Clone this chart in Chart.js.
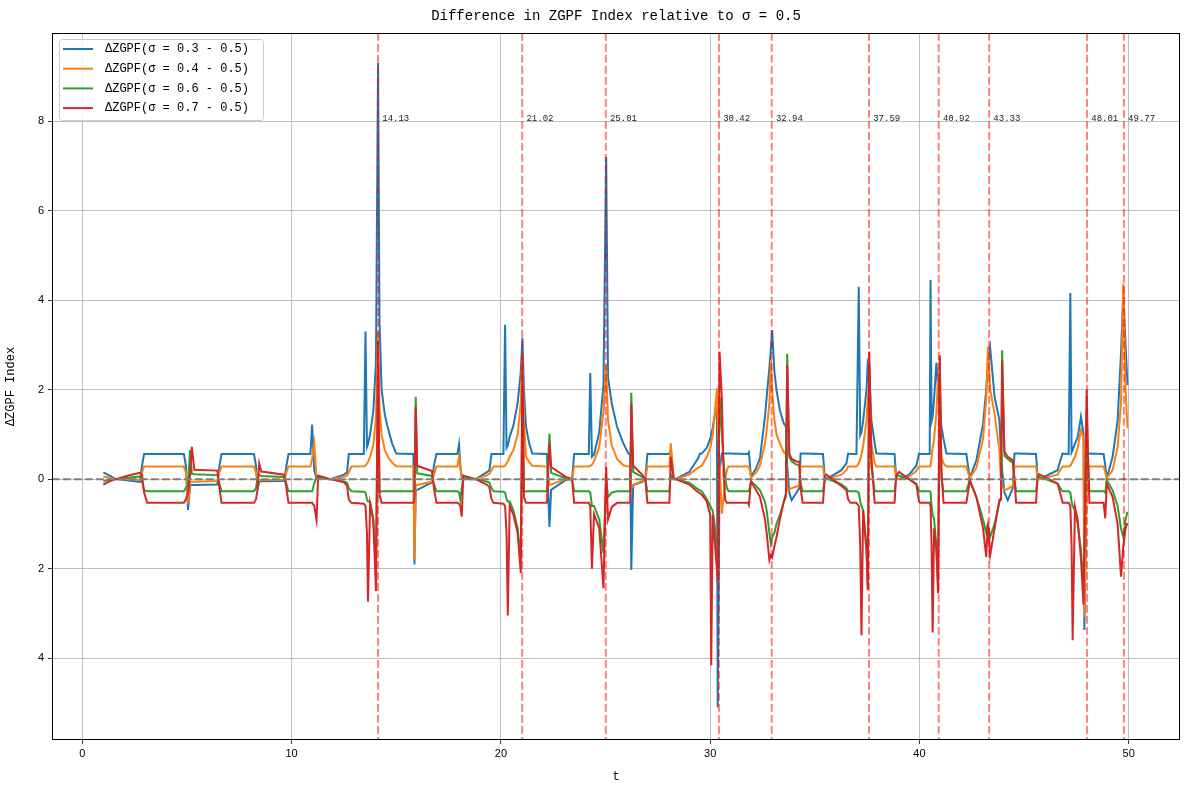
<!DOCTYPE html>
<html>
<head>
<meta charset="utf-8">
<script src="https://cdn.jsdelivr.net/npm/chart.js@4.4.1/dist/chart.umd.min.js"></script>
<style>
  html, body { margin: 0; padding: 0; background: #fff; }
  #wrap { width: 1189px; height: 790px; }
</style>
</head>
<body>
<div id="wrap"><canvas id="myChart" width="1189" height="790"></canvas></div>
<script>
// sample points (t) shared by the four series
const t = [
  1.0, 1.3, 1.6, 2.2, 2.75, 2.85, 2.95, 3.1,
  4.85, 4.95, 5.05, 5.15, 5.23, 5.35, 6.45, 6.55, 6.65,
  8.2, 8.3, 8.38, 8.45, 8.55, 9.65, 9.75, 9.85,
  10.9, 10.98, 11.08, 11.19, 11.27, 11.85, 12.5, 12.65, 12.73, 12.85,
  13.45, 13.53, 13.6, 13.65, 13.75, 13.9, 14.03, 14.13, 14.2, 14.3, 14.45, 14.6, 14.8, 15.0,
  15.82, 15.87, 15.93, 16.0, 16.7, 16.8, 16.92,
  17.92, 18.0, 18.06, 18.13, 18.2, 18.8, 19.35, 19.45, 19.55, 19.65,
  20.12, 20.2, 20.27, 20.33, 20.42, 20.6, 20.8, 20.95, 21.03, 21.1, 21.2, 21.35, 21.5,
  22.2, 22.32, 22.4, 23.1, 23.4, 23.5,
  24.2, 24.27, 24.35, 24.45, 24.7, 24.9, 25.03, 25.12, 25.3, 25.55, 25.85, 26.1,
  26.18, 26.23, 26.32, 26.75, 26.9, 27.0,
  28.05, 28.12, 28.25, 28.35, 29.0, 29.4, 29.52, 29.6, 29.84, 30.0, 30.05, 30.12, 30.21, 30.32, 30.36, 30.45, 30.56, 30.64, 30.72, 30.8, 30.88,
  31.8, 31.85, 31.95, 32.2, 32.38, 32.62, 32.7, 32.83, 32.9, 32.96, 33.07, 33.17, 33.33, 33.52, 33.62, 33.68, 33.78, 33.89, 34.1, 34.26, 34.32, 34.42,
  35.39, 35.48, 35.56, 36.27, 36.51, 36.59, 36.7, 36.99, 37.1, 37.17, 37.23, 37.31, 37.47, 37.53, 37.6, 37.7, 37.86, 37.94,
  38.81, 38.89, 39.02, 39.5, 39.85, 39.98, 40.04, 40.49, 40.53, 40.58, 40.63, 40.7, 40.81, 40.89, 40.97, 41.05, 41.15, 41.29,
  42.24, 42.32, 42.4, 42.72, 43.04, 43.19, 43.27, 43.38, 43.59, 43.82, 43.9, 43.95, 44.06, 44.22, 44.46, 44.54, 44.62,
  45.57, 45.65, 45.73, 46.6, 46.72, 46.84, 47.13, 47.21, 47.27, 47.32, 47.43, 47.56, 47.72, 47.84, 47.88, 47.99, 48.05, 48.12,
  48.8, 48.88, 48.95, 49.23, 49.47, 49.63, 49.74, 49.85, 49.94
];

// Δ for sigma = 0.3
const d03 = [
  0.15, 0.08, 0.0, -0.03, -0.06, 0.3, 0.56, 0.56,
  0.56, 0.3, -0.69, -0.15, -0.13, -0.13, -0.12, 0.3, 0.56,
  0.56, 0.3, -0.2, -0.06, -0.05, -0.04, 0.3, 0.56,
  0.56, 1.22, 0.2, 0.0, 0.02, 0.0, 0.1, 0.15, 0.56, 0.56,
  0.56, 3.3, 0.72, 0.78, 1.0, 1.5, 2.6, 9.3, 3.5, 2.0, 1.45, 1.14, 0.8, 0.57,
  0.56, -1.91, -0.25, -0.24, -0.08, 0.3, 0.56,
  0.56, 0.78, 0.3, 0.02, 0.0, 0.0, 0.16, 0.2, 0.56, 0.56,
  0.56, 3.45, 0.7, 0.75, 0.95, 1.2, 1.7, 2.4, 3.15, 2.0, 1.17, 0.8, 0.57,
  0.56, -1.07, -0.24, -0.02, 0.0, 0.56,
  0.56, 2.37, 0.5, 0.55, 1.05, 2.1, 7.2, 2.27, 1.68, 1.17, 0.8, 0.57,
  0.56, -2.03, -0.13, -0.06, 0.0, 0.56,
  0.56, 0.65, 0.02, 0.0, 0.16, 0.45, 0.57, 0.57, 0.7, 0.9, 1.0, 1.15, 1.4, 1.8, -5.1, 0.2, 0.57, 0.57, 0.57, 0.57, 0.57,
  0.56, 0.6, 0.05, 0.25, 0.47, 1.4, 1.84, 2.5, 2.9, 3.33, 2.4, 1.99, 1.54, 1.24, 1.17, 0.3, -0.3, -0.47, -0.32, -0.2, 0.57, 0.57,
  0.56, 0.02, 0.0, 0.2, 0.35, 0.57, 0.56, 0.56, 4.3, 0.98, 1.05, 1.3, 2.0, 2.6, 2.5, 1.32, 0.8, 0.57,
  0.56, 0.02, 0.0, 0.1, 0.3, 0.57, 0.56, 0.56, 4.45, 1.3, 1.4, 1.8, 2.6, 2.0, 1.6, 1.17, 0.9, 0.57,
  0.56, 0.3, 0.02, 0.42, 1.24, 2.0, 2.5, 2.93, 1.84, 1.32, 0.6, 0.2, -0.3, -0.47, -0.2, 0.57, 0.57,
  0.56, 0.02, 0.0, 0.2, 0.4, 0.57, 0.56, 4.16, 0.6, 0.65, 0.8, 0.93, 1.4, 1.0, -3.37, 0.0, 0.56, 0.57,
  0.56, 0.3, 0.02, 0.5, 1.32, 2.8, 4.2, 3.0, 2.1
];

// Δ for sigma = 0.4
const d04 = [
  0.06, 0.03, 0.0, 0.0, -0.02, 0.15, 0.28, 0.28,
  0.28, 0.15, -0.55, -0.08, -0.06, -0.06, -0.04, 0.15, 0.28,
  0.28, 0.15, -0.1, -0.03, -0.02, -0.01, 0.15, 0.28,
  0.28, 0.45, 0.8, 0.05, 0.03, 0.0, 0.05, 0.08, 0.15, 0.28,
  0.29, 0.3, 0.35, 0.38, 0.5, 0.75, 1.4, 3.3, 1.6, 1.0, 0.65, 0.5, 0.37, 0.29,
  0.28, -1.8, -0.15, -0.13, -0.06, 0.1, 0.28,
  0.28, 0.5, 0.25, 0.05, 0.03, 0.0, 0.09, 0.12, 0.2, 0.28,
  0.28, 0.3, 0.35, 0.4, 0.5, 0.65, 1.0, 1.7, 2.77, 1.3, 0.5, 0.38, 0.3,
  0.28, -0.13, -0.12, 0.0, 0.0, 0.28,
  0.28, 0.3, 0.32, 0.4, 0.72, 1.5, 2.55, 1.3, 0.75, 0.45, 0.31, 0.28,
  0.28, -0.2, -0.13, -0.04, 0.0, 0.28,
  0.28, 0.8, 0.02, 0.0, 0.1, 0.25, 0.28, 0.3, 0.5, 0.7, 0.8, 1.0, 1.4, 2.03, 1.2, 0.3, -0.77, -0.4, 0.0, 0.2, 0.28,
  0.28, 0.28, 0.03, 0.15, 0.3, 0.8, 1.1, 1.7, 2.66, 2.0, 1.32, 1.0, 0.8, 0.6, 0.57, -0.25, -0.23, -0.2, -0.17, -0.15, 0.28, 0.28,
  0.28, 0.0, 0.0, 0.1, 0.2, 0.28, 0.28, 0.28, 0.35, 0.45, 0.55, 0.75, 1.3, 1.8, 2.16, 0.8, 0.35, 0.28,
  0.28, 0.01, 0.0, 0.06, 0.18, 0.28, 0.28, 0.28, 0.3, 0.5, 0.7, 0.9, 1.5, 2.3, 1.2, 0.5, 0.35, 0.28,
  0.28, 0.15, 0.02, 0.25, 0.9, 1.8, 2.96, 2.0, 1.46, 0.64, -0.1, -0.17, -0.24, -0.22, -0.15, 0.28, 0.28,
  0.28, 0.01, 0.0, 0.1, 0.2, 0.28, 0.28, 0.3, 0.35, 0.4, 0.5, 0.7, 1.1, 0.9, -3.1, 0.0, 0.28, 0.28,
  0.28, 0.15, 0.02, 0.2, 0.72, 1.7, 4.37, 2.0, 1.14
];

// Δ for sigma = 0.6
const d06 = [
  -0.04, -0.02, 0.0, 0.03, 0.06, -0.05, -0.25, -0.27,
  -0.27, -0.2, -0.1, 0.65, 0.12, 0.11, 0.09, -0.1, -0.27,
  -0.27, -0.2, 0.05, 0.1, 0.07, 0.05, -0.1, -0.27,
  -0.27, -0.27, -0.1, 0.04, 0.05, 0.0, -0.05, -0.08, -0.2, -0.27,
  -0.28, -0.3, -0.45, -0.5, -0.5, -0.9, -1.9, 2.5, -0.3, -0.27, -0.27, -0.27, -0.27, -0.27,
  -0.27, -0.2, 1.84, 0.13, 0.07, -0.1, -0.27,
  -0.27, -0.3, -0.45, -0.2, 0.03, 0.0, -0.06, -0.08, -0.2, -0.27,
  -0.28, -0.3, -0.45, -0.5, -0.5, -0.7, -1.1, -1.8, 2.0, -0.3, -0.27, -0.27, -0.27,
  -0.27, 1.02, 0.14, 0.02, 0.0, -0.27,
  -0.27, -0.3, -0.6, -0.6, -0.9, -1.65, 0.0, -0.4, -0.3, -0.27, -0.27, -0.27,
  -0.27, 1.93, 0.16, 0.05, 0.0, -0.27,
  -0.27, 0.1, 0.0, 0.0, -0.08, -0.22, -0.25, -0.27, -0.45, -0.6, -0.65, -0.7, -1.0, -1.6, -1.7, 1.84, 1.0, 0.4, 0.0, -0.2, -0.27,
  -0.27, -0.27, -0.05, -0.15, -0.25, -0.51, -0.7, -1.2, -1.44, -1.3, -1.2, -1.0, -0.8, -0.5, -0.4, 2.8, 0.5, 0.4, 0.33, 0.31, -0.1, -0.27,
  -0.27, 0.0, 0.02, -0.12, -0.2, -0.27, -0.27, -0.27, -0.3, -0.5, -0.6, -0.7, -1.5, -2.4, 2.6, 0.3, -0.27, -0.27,
  -0.27, 0.05, 0.08, 0.0, -0.1, -0.27, -0.27, -0.27, -0.3, -0.6, -0.8, -0.9, -1.5, -2.4, 2.7, 0.0, -0.27, -0.27,
  -0.27, -0.15, -0.02, -0.4, -0.9, -1.2, -1.0, -1.29, -1.0, -0.52, -0.45, 2.88, 0.52, 0.45, 0.36, 0.0, -0.27,
  -0.27, 0.02, 0.05, -0.1, -0.2, -0.27, -0.27, -0.3, -0.5, -0.6, -0.7, -1.0, -1.6, -2.4, -1.5, 1.5, 0.5, -0.27,
  -0.27, -0.3, -0.02, -0.25, -0.6, -1.1, -1.3, -0.9, -0.73
];

// Δ for sigma = 0.7
const d07 = [
  -0.12, -0.05, 0.0, 0.08, 0.14, 0.1, -0.3, -0.53,
  -0.53, -0.45, -0.3, 0.1, 0.72, 0.21, 0.19, -0.2, -0.53,
  -0.53, -0.45, -0.2, 0.35, 0.17, 0.1, -0.2, -0.53,
  -0.53, -0.53, -0.6, -0.91, 0.08, 0.0, -0.07, -0.15, -0.45, -0.53,
  -0.55, -0.6, -1.2, -2.74, -0.55, -0.9, -2.5, 3.1, -0.35, -0.53, -0.53, -0.53, -0.53, -0.53,
  -0.53, -0.4, 1.62, 0.3, 0.18, -0.2, -0.53,
  -0.53, -0.55, -0.6, -0.84, 0.08, 0.0, -0.13, -0.18, -0.45, -0.53,
  -0.55, -0.6, -1.2, -3.05, -0.6, -0.8, -1.2, -2.1, 2.75, -0.4, -0.53, -0.53, -0.53,
  -0.53, 0.8, 0.27, 0.05, 0.0, -0.53,
  -0.53, -0.6, -2.0, -0.78, -1.1, -2.44, 0.27, -0.9, -0.62, -0.53, -0.53, -0.53,
  -0.53, 1.69, 0.3, 0.1, 0.0, -0.53,
  -0.53, 0.5, 0.02, 0.0, -0.12, -0.28, -0.32, -0.35, -0.5, -0.8, -4.16, -0.8, -1.36, -2.0, -2.3, 2.85, 1.76, 0.13, -0.47, -0.53, -0.53,
  -0.53, -0.58, -0.05, -0.25, -0.4, -0.9, -1.2, -1.81, -1.7, -1.75, -1.5, -1.3, -0.9, -0.5, -0.32, 2.55, 0.57, 0.45, 0.4, 0.38, -0.2, -0.53,
  -0.53, 0.06, 0.1, -0.15, -0.25, -0.45, -0.53, -0.53, -0.6, -1.5, -3.49, -0.7, -1.6, -2.48, 2.85, 0.5, -0.53, -0.53,
  -0.53, 0.08, 0.16, 0.0, -0.12, -0.5, -0.53, -0.53, -0.6, -1.5, -3.43, -1.1, -1.6, -2.55, 2.77, 0.2, -0.53, -0.53,
  -0.53, -0.3, -0.03, -0.4, -1.1, -1.74, -1.0, -1.7, -1.1, -0.46, -0.45, 2.66, 0.61, 0.5, 0.42, 0.0, -0.53,
  -0.53, 0.05, 0.11, -0.1, -0.3, -0.53, -0.53, -0.6, -1.5, -3.6, -0.62, -0.9, -1.8, -2.8, -1.5, 2.0, 0.6, -0.53,
  -0.53, -0.88, -0.1, -0.4, -1.0, -2.18, -1.5, -1.1, -0.98
];

const seriesLabels = ['ΔZGPF(σ = 0.3 - 0.5)', 'ΔZGPF(σ = 0.4 - 0.5)', 'ΔZGPF(σ = 0.6 - 0.5)', 'ΔZGPF(σ = 0.7 - 0.5)'];
const seriesColors = ['#1f77b4', '#ff7f0e', '#2ca02c', '#d62728'];

// zeta zeros marked with dashed lines
const zeros = [14.13, 21.02, 25.01, 30.42, 32.94, 37.59, 40.92, 43.33, 48.01, 49.77];
const zeroLabels = ['14.13', '21.02', '25.01', '30.42', '32.94', '37.59', '40.92', '43.33', '48.01', '49.77'];

const xTicks = [0, 10, 20, 30, 40, 50];
const yTicks = [-4, -2, 0, 2, 4, 6, 8];

const MONO = "'Liberation Mono', 'DejaVu Sans Mono', monospace";
const NARROW = "'Liberation Sans Narrow', 'Liberation Sans', sans-serif";

const allSeries = [d03, d04, d06, d07];

const datasets = allSeries.map((vals, k) => ({
  label: seriesLabels[k],
  data: t.map((x, i) => ({ x: x, y: vals[i] })),
  borderColor: seriesColors[k],
  backgroundColor: seriesColors[k],
  borderWidth: 2,
  pointRadius: 0,
  tension: 0,
  order: 3 - k   // red drawn last (on top) like matplotlib
}));

const decor = {
  id: 'decor',
  afterDatasetsDraw(chart) {
    const { ctx, chartArea: a, scales: { x, y } } = chart;
    ctx.save();
    ctx.beginPath();
    ctx.rect(a.left, a.top, a.right - a.left, a.bottom - a.top);
    ctx.clip();
    // y = 0 dashed line
    ctx.strokeStyle = '#808080';
    ctx.lineWidth = 2;
    ctx.setLineDash([7.7, 3.3]);
    ctx.beginPath();
    ctx.moveTo(a.left, y.getPixelForValue(0));
    ctx.lineTo(a.right, y.getPixelForValue(0));
    ctx.stroke();
    // zeros
    ctx.strokeStyle = 'rgba(255,0,0,0.5)';
    zeros.forEach((z) => {
      const px = x.getPixelForValue(z);
      ctx.beginPath();
      ctx.moveTo(px, a.top);
      ctx.lineTo(px, a.bottom);
      ctx.stroke();
    });
    ctx.setLineDash([]);
    ctx.fillStyle = '#222';
    ctx.font = "9px " + MONO;
    ctx.textAlign = 'left';
    ctx.textBaseline = 'alphabetic';
    zeros.forEach((z, i) => {
      ctx.fillText(zeroLabels[i], x.getPixelForValue(z + 0.2), y.getPixelForValue(8));
    });
    ctx.restore();

    // spines
    ctx.save();
    ctx.strokeStyle = '#000';
    ctx.lineWidth = 1;
    ctx.strokeRect(a.left + 0.5, a.top + 0.5, a.right - a.left - 1, a.bottom - a.top - 1);

    // title
    ctx.fillStyle = '#000';
    ctx.font = "14px " + MONO;
    ctx.textAlign = 'center';
    ctx.textBaseline = 'middle';
    ctx.fillText('Difference in ZGPF Index relative to σ = 0.5', (a.left + a.right) / 2, 16);

    // legend
    const lx = a.left + 7, ly = a.top + 6, lw = 204, lh = 81;
    ctx.fillStyle = 'rgba(255,255,255,0.85)';
    ctx.strokeStyle = '#cccccc';
    ctx.lineWidth = 1;
    ctx.beginPath();
    ctx.roundRect(lx + 0.5, ly + 0.5, lw, lh, 3);
    ctx.fill();
    ctx.stroke();
    ctx.font = "12px " + MONO;
    ctx.textAlign = 'left';
    ctx.textBaseline = 'middle';
    chart.data.datasets.forEach((ds, i) => {
      const ry = ly + 10 + i * 19.7;
      ctx.strokeStyle = ds.borderColor;
      ctx.lineWidth = 2;
      ctx.beginPath();
      ctx.moveTo(lx + 4, ry);
      ctx.lineTo(lx + 34, ry);
      ctx.stroke();
      ctx.fillStyle = '#000';
      ctx.fillText(ds.label, lx + 46, ry);
    });
    ctx.restore();
  }
};

new Chart(document.getElementById('myChart'), {
  type: 'line',
  data: { datasets: datasets },
  options: {
    responsive: false,
    animation: false,
    devicePixelRatio: 1,
    layout: { padding: { top: 33, right: 9, left: 0, bottom: 0 } },
    plugins: { legend: { display: false }, tooltip: { enabled: false }, title: { display: false } },
    scales: {
      x: {
        type: 'linear',
        min: -1.45,
        max: 52.45,
        afterBuildTicks: (s) => { s.ticks = xTicks.map((v) => ({ value: v })); },
        afterFit: (s) => { s.height = 50; },
        ticks: { font: { family: NARROW, size: 11 }, color: '#000', padding: 3, maxRotation: 0 },
        grid: { color: '#b0b0b0', lineWidth: 0.8, tickColor: '#000', tickLength: 4, drawTicks: true },
        border: { display: false },
        title: { display: true, text: 't', font: { family: MONO, size: 12 }, color: '#000', padding: { top: 2, bottom: 6 } }
      },
      y: {
        type: 'linear',
        min: -5.83,
        max: 9.97,
        afterBuildTicks: (s) => { s.ticks = yTicks.map((v) => ({ value: v })); },
        afterFit: (s) => { s.width = 52; },
        ticks: {
          font: { family: NARROW, size: 11 }, color: '#000', padding: 4,
          callback: (v) => String(Math.abs(v))   // the source font drops the minus sign
        },
        grid: { color: '#b0b0b0', lineWidth: 0.8, tickColor: '#000', tickLength: 4, drawTicks: true },
        border: { display: false },
        title: { display: true, text: 'ΔZGPF Index', font: { family: MONO, size: 12 }, color: '#000', padding: { top: 4, bottom: 2 } }
      }
    }
  },
  plugins: [decor]
});
</script>
</body>
</html>
